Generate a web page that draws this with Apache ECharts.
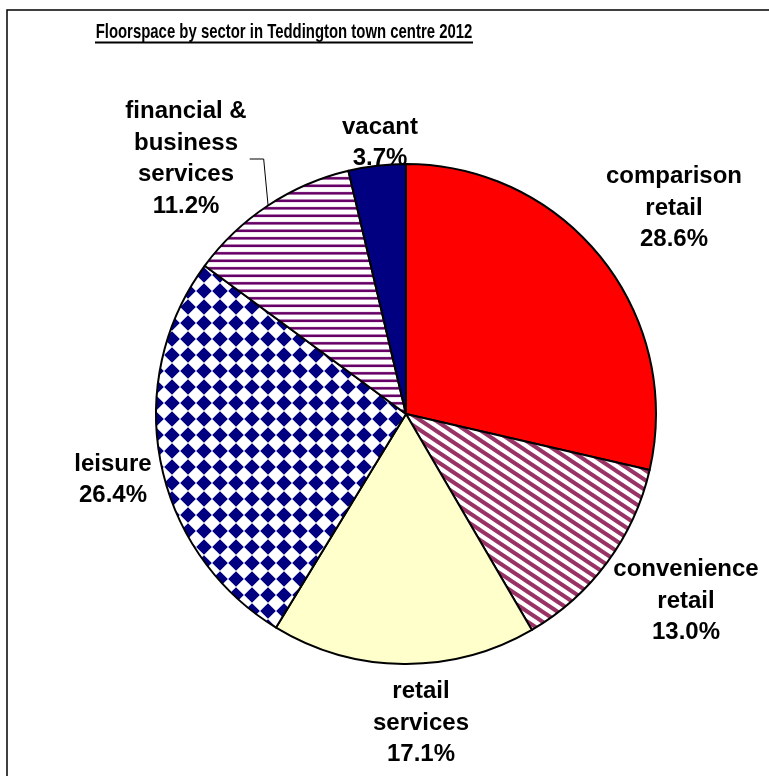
<!DOCTYPE html>
<html>
<head>
<meta charset="utf-8">
<script src="https://cdn.jsdelivr.net/npm/echarts@6/dist/echarts.min.js"></script>
<style>
  html, body { margin: 0; padding: 0; background: #ffffff; }
  #chart { width: 769px; height: 776px; }
</style>
</head>
<body>
<div id="chart"></div>
<script>
// Floorspace shares by sector (percent of total floorspace)
const chartTitle = 'Floorspace by sector in Teddington town centre 2012';
const sectors = [
  'comparison\nretail',
  'convenience\nretail',
  'retail\nservices',
  'leisure',
  'financial &\nbusiness\nservices',
  'vacant'
];
const shares = [28.6, 13.0, 17.1, 26.4, 11.2, 3.7];

// Where each sector label is centred on the page
const labelAnchors = [[674, 208], [686, 601], [421, 723], [113, 480], [186, 159], [380, 143]];
// Only the financial label is tied to its slice with a leader line
const leaderLines = [false, false, false, false, true, false];

const FONT = '"Liberation Sans", Arial, Helvetica, sans-serif';

function tile(w, h, draw) {
  const c = document.createElement('canvas');
  c.width = w; c.height = h;
  const ctx = c.getContext('2d');
  ctx.fillStyle = '#ffffff';
  ctx.fillRect(0, 0, w, h);
  draw(ctx, w, h);
  return { image: c, repeat: 'repeat' };
}

// maroon downward diagonal stripes
const diagonalFill = tile(15, 10, (ctx, w, h) => {
  ctx.strokeStyle = '#993366';
  ctx.lineWidth = 4;
  for (let k = -2; k <= 2; k++) {
    ctx.beginPath();
    ctx.moveTo(-w, -h + k * h);
    ctx.lineTo(2 * w, 2 * h + k * h);
    ctx.stroke();
  }
});

// navy diamond checker
const diamondFill = tile(16, 16, (ctx, w, h) => {
  ctx.fillStyle = '#000080';
  const r = 7.8;
  for (let i = -1; i <= 1; i++) {
    for (let j = -1; j <= 1; j++) {
      const cx = 12 + i * w, cy = 3 + j * h;
      ctx.beginPath();
      ctx.moveTo(cx, cy - r);
      ctx.lineTo(cx + r, cy);
      ctx.lineTo(cx, cy + r);
      ctx.lineTo(cx - r, cy);
      ctx.closePath();
      ctx.fill();
    }
  }
});

// purple horizontal stripes
const horizontalFill = tile(8, 15, (ctx, w, h) => {
  ctx.fillStyle = '#e6d2e6';
  ctx.fillRect(0, 4.0, w, 3.6);
  ctx.fillRect(0, 11.5, w, 3.6);
  ctx.fillStyle = '#660066';
  ctx.fillRect(0, 4.6, w, 2.4);
  ctx.fillRect(0, 12.1, w, 2.4);
});

const sliceFills = ['#ff0000', diagonalFill, '#ffffcc', diamondFill, horizontalFill, '#000080'];

const pieData = sectors.map((name, i) => ({
  name: name,
  value: shares[i],
  itemStyle: { color: sliceFills[i] },
  labelLine: { show: leaderLines[i] }
}));

const chart = echarts.init(document.getElementById('chart'), null, { renderer: 'canvas' });

chart.setOption({
  animation: false,
  backgroundColor: '#ffffff',
  graphic: [
    {
      type: 'polyline',
      shape: { points: [[7, 776], [7, 10], [769, 10]] },
      style: { stroke: '#000000', lineWidth: 1.5, fill: null },
      silent: true
    },
    {
      type: 'text',
      x: 284,
      y: 32,
      scaleX: 0.71,
      style: {
        text: chartTitle,
        font: 'bold 21px ' + FONT,
        fill: '#000000',
        align: 'center',
        verticalAlign: 'middle'
      },
      silent: true
    },
    {
      type: 'line',
      shape: { x1: 95, y1: 42.5, x2: 473, y2: 42.5 },
      style: { stroke: '#000000', lineWidth: 2 },
      silent: true
    }
  ],
  series: [
    {
      type: 'pie',
      center: [406, 414],
      radius: 250,
      startAngle: 90,
      clockwise: true,
      avoidLabelOverlap: false,
      silent: true,
      emphasis: { disabled: true },
      itemStyle: { borderColor: '#000000', borderWidth: 2 },
      label: {
        show: true,
        position: 'outside',
        fontFamily: FONT,
        fontWeight: 'bold',
        fontSize: 24,
        lineHeight: 31.5,
        color: '#000000',
        align: 'center',
        formatter: p => p.name + '\n' + p.value.toFixed(1) + '%'
      },
      labelLine: {
        show: false,
        length: 10,
        length2: 10,
        smooth: false,
        lineStyle: { color: '#000000', width: 1 }
      },
      labelLayout: params => {
        const [x, y] = labelAnchors[params.dataIndex];
        const out = { x: x, y: y, align: 'center', verticalAlign: 'middle' };
        if (leaderLines[params.dataIndex] && params.labelLinePoints) {
          const edge = params.labelLinePoints[0];
          const right = x + params.labelRect.width / 2;
          out.labelLinePoints = [edge, [right + 17, y], [right + 3, y]];
        }
        return out;
      },
      data: pieData
    }
  ]
});
</script>
</body>
</html>
